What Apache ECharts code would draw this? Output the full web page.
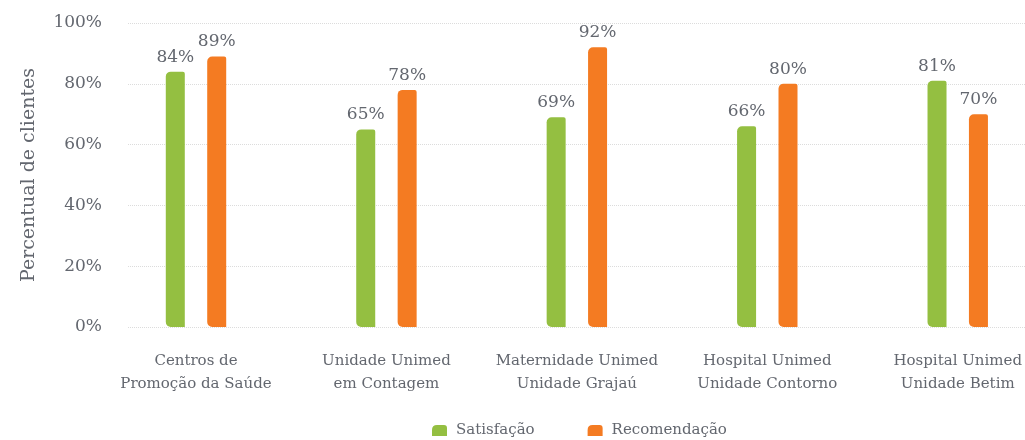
<!DOCTYPE html>
<html>
<head>
<meta charset="utf-8">
<script src="https://cdn.jsdelivr.net/npm/echarts@6/dist/echarts.min.js"></script>
<style>
html,body{margin:0;padding:0;background:#fff;}
#chart{width:1025px;height:440px;}
</style>
</head>
<body>
<div id="chart"></div>
<script>
const categories = [
  'Centros de\nPromoção da Saúde',
  'Unidade Unimed\nem Contagem',
  'Maternidade Unimed\nUnidade Grajaú',
  'Hospital Unimed\nUnidade Contorno',
  'Hospital Unimed\nUnidade Betim'
];
const satisfacao = [84, 65, 69, 66, 81];
const recomendacao = [89, 78, 92, 80, 70];
const seriesNames = ['Satisfação', 'Recomendação'];
const yTicks = { min: 0, max: 100, interval: 20 };

const FONT = 'DejaVu Serif';
const TXT = '#63676f';
const GREEN = '#94bf41';
const ORANGE = '#f47b22';
const iconPath = 'path://M0,11 L0,5 Q0,0 5,0 L12,0 Q15,0 15,3 L15,11 Z';

const chart = echarts.init(document.getElementById('chart'), null, { renderer: 'canvas' });
chart.setOption({
  animation: false,
  textStyle: { fontFamily: FONT },
  grid: [
    { left: 196, right: 67, top: 23, bottom: 113, containLabel: false },
    { left: 128, right: 0, top: 23, bottom: 113, containLabel: false }
  ],
  legend: {
    top: 423,
    left: 432,
    padding: 0,
    itemWidth: 15,
    itemHeight: 11,
    itemGap: 53,
    textStyle: { fontFamily: FONT, fontSize: 15, color: TXT, padding: [0, 0, 0, 4] },
    data: [
      { name: seriesNames[0], icon: iconPath },
      { name: seriesNames[1], icon: iconPath }
    ]
  },
  xAxis: [
    {
      gridIndex: 0,
      type: 'category',
      boundaryGap: false,
      data: categories,
      axisLine: { show: false },
      axisTick: { show: false },
      axisLabel: { fontFamily: FONT, fontSize: 15, color: TXT, margin: 23, lineHeight: 23, interval: 0 }
    },
    { gridIndex: 1, type: 'value', show: false, min: 0, max: 1 }
  ],
  yAxis: [
    { gridIndex: 0, type: 'value', min: yTicks.min, max: yTicks.max, interval: yTicks.interval, show: false },
    {
      gridIndex: 1,
      type: 'value',
      min: yTicks.min, max: yTicks.max, interval: yTicks.interval,
      name: 'Percentual de clientes',
      nameLocation: 'middle',
      nameGap: 89,
      nameTextStyle: { fontFamily: FONT, fontSize: 19, color: TXT },
      axisLine: { show: false },
      axisTick: { show: false },
      axisLabel: { fontFamily: FONT, fontSize: 17, color: TXT, margin: 26, formatter: '{value}%' },
      splitLine: { show: true, lineStyle: { color: '#dcdcdc', type: 'dotted', width: 1 } }
    }
  ],
  series: [
    {
      name: seriesNames[0],
      type: 'bar',
      xAxisIndex: 0, yAxisIndex: 0,
      data: satisfacao,
      barWidth: 19,
      barGap: '118%',
      itemStyle: { color: GREEN, borderRadius: [5, 2, 0, 5] },
      label: { show: true, position: 'top', distance: 6, formatter: '{c}%', fontFamily: FONT, fontSize: 17, color: TXT }
    },
    {
      name: seriesNames[1],
      type: 'bar',
      xAxisIndex: 0, yAxisIndex: 0,
      data: recomendacao,
      barWidth: 19,
      barGap: '118%',
      itemStyle: { color: ORANGE, borderRadius: [5, 2, 0, 5] },
      label: { show: true, position: 'top', distance: 6, formatter: '{c}%', fontFamily: FONT, fontSize: 17, color: TXT }
    }
  ]
});
</script>
</body>
</html>
